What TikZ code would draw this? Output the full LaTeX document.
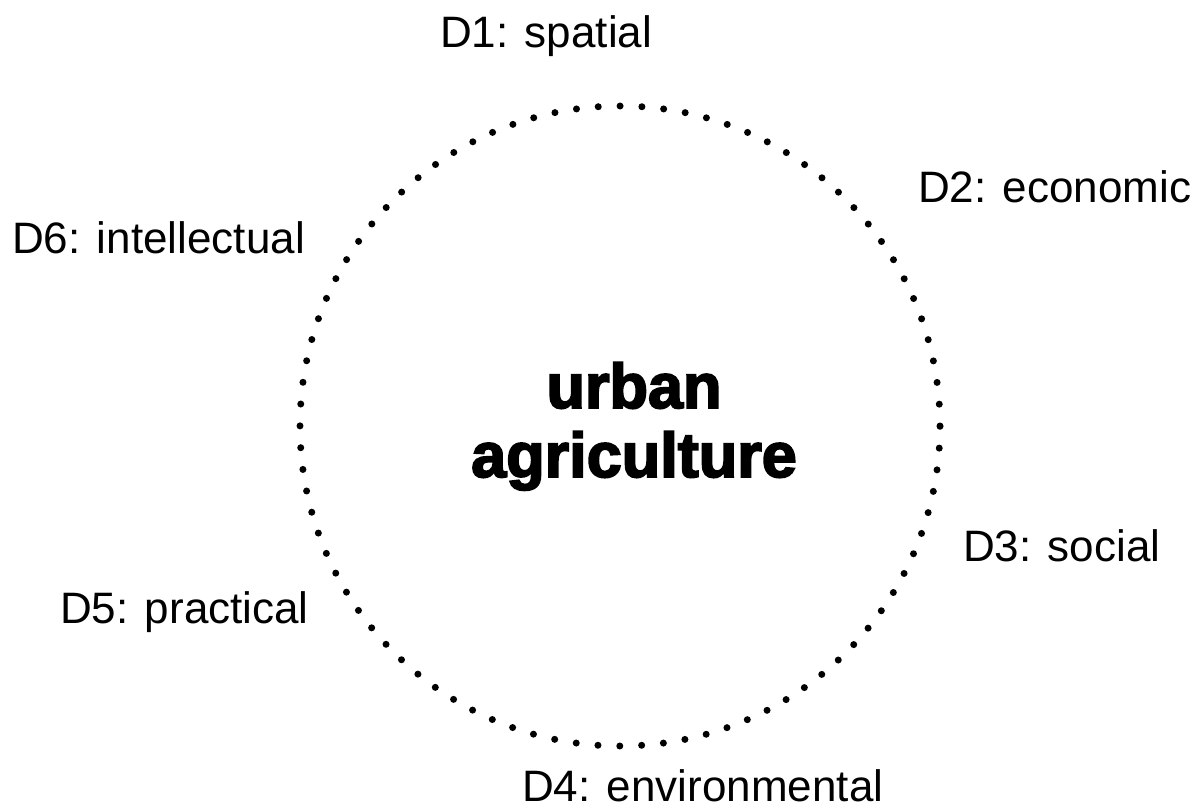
\documentclass[tikz,border=0pt]{standalone}
\usepackage{fontspec}
\setmainfont{Liberation Sans}
\newfontfamily\titlefont[FakeBold=3]{Liberation Sans Bold}
\begin{document}
\begin{tikzpicture}[x=1pt,y=-1pt,
  dimlabel/.style={inner sep=0pt,anchor=base west,font=\fontsize{44}{50}\selectfont},
  ring/.style={circle,inner sep=0pt,minimum size=640pt,draw,line width=7pt,
    line cap=round,dash pattern=on 0pt off 21.8546pt},
  core/.style={inner sep=0pt,anchor=base,align=center,
    font=\titlefont\fontsize{63}{69}\selectfont}]
\useasboundingbox (0,0) rectangle (1197,811);
% dotted ring
\node[ring] (circ) at (620,426) {};
% central theme (base anchor sits on the last line)
\node[core] (ua) at (634,477) {urban\\agriculture};
% six dimensions around the ring
\node[dimlabel] (d1) at (440,47) {D1: spatial};
\node[dimlabel] (d2) at (918,202) {D2: economic};
\node[dimlabel] (d3) at (963,561) {D3: social};
\node[dimlabel] (d4) at (522,801) {D4: environmental};
\node[dimlabel] (d5) at (60,623) {D5: practical};
\node[dimlabel] (d6) at (12,253) {D6: intellectual};
\end{tikzpicture}
\end{document}
